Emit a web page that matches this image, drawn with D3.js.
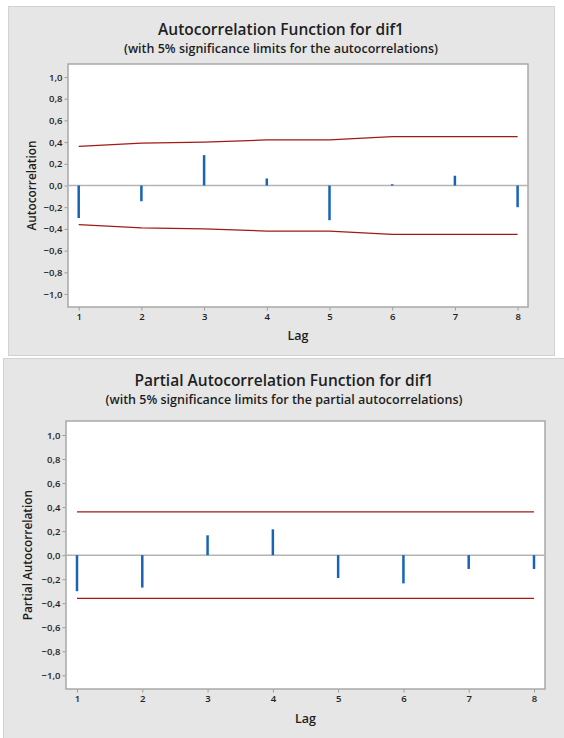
<!DOCTYPE html>
<html>
<head>
<meta charset="utf-8">
<script src="https://cdn.jsdelivr.net/npm/d3@7"></script>
<style>
	body { margin: 0; background: #ffffff; }
	svg { display: block; font-family: "Open Sans", "Noto Sans", sans-serif; }
</style>
</head>
<body>
<svg id="chart" width="564" height="738"></svg>
<script>
/** data */
var lags = [1, 2, 3, 4, 5, 6, 7, 8];
var acfValues = [-0.30, -0.145, 0.28, 0.065, -0.32, 0.012, 0.09, -0.20];
var acfLimits = [0.36, 0.39, 0.40, 0.42, 0.42, 0.45, 0.45, 0.45];
var pacfValues = [-0.30, -0.27, 0.165, 0.215, -0.19, -0.235, -0.115, -0.115];
var pacfLimits = [0.36, 0.36, 0.36, 0.36, 0.36, 0.36, 0.36, 0.36];
var yTicks = [-1.0, -0.8, -0.6, -0.4, -0.2, 0.0, 0.2, 0.4, 0.6, 0.8, 1.0];

(function() {
	"use strict";

	var fmt = function(d) { return d3.format(".1f")(d).replace(".", ","); };

	/**
	 * reusable correlogram panel (acf / pacf with significance limits)
	 */
	function correlogram() {
		var box = {x: 0, y: 0, w: 564, h: 360}, // gray frame
		    plot = {left: 60, top: 60, right: 530, bottom: 300}, // white plot area
		    xRange = [70, 520], // pixel positions of first / last lag
		    yRange = [290, 75], // pixel positions of -1 / 1
		    title = "", subtitle = "", yLabel = "",
		    titleY = 35, yLabelX = 30, lagY = 340;

		function chart(selection) {
			selection.each(function(d) {
				var g = d3.select(this).append("g");

				var x = d3.scaleLinear().domain([1, 8]).range(xRange),
				    y = d3.scaleLinear().domain([-1, 1]).range(yRange);

				// frame
				g.append("rect")
					.attr("x", box.x + 0.5).attr("y", box.y + 0.5)
					.attr("width", box.w).attr("height", box.h)
					.attr("fill", "#e6e6e6").attr("stroke", "#d2d2d2");

				g.append("rect")
					.attr("x", plot.left).attr("y", plot.top)
					.attr("width", plot.right - plot.left).attr("height", plot.bottom - plot.top)
					.attr("fill", "#ffffff").attr("stroke", "#a8a8a8").attr("stroke-width", 1.5);

				// titles
				var cx = box.x + box.w / 2;
				g.append("text").text(title)
					.attr("x", cx).attr("y", titleY)
					.attr("text-anchor", "middle").attr("font-size", 15.5).attr("font-weight", 600)
					.attr("fill", "#1e1e1e");
				g.append("text").text(subtitle)
					.attr("x", cx).attr("y", titleY + 18)
					.attr("text-anchor", "middle").attr("font-size", 12.5).attr("font-weight", 600)
					.attr("fill", "#1e1e1e");

				// axes
				var yAxis = d3.axisLeft(y).tickValues(yTicks).tickFormat(fmt).tickSize(3).tickPadding(2);
				var ya = g.append("g").attr("transform", "translate(" + (plot.left - 0.5) + ",0)").call(yAxis);

				var xAxis = d3.axisBottom(x).tickValues(lags).tickFormat(d3.format("d")).tickSize(3).tickPadding(3);
				var xa = g.append("g").attr("transform", "translate(0," + (plot.bottom + 0.5) + ")").call(xAxis);

				[ya, xa].forEach(function(a) {
					a.select(".domain").remove();
					a.selectAll(".tick line").attr("stroke", "#9a9a9a");
					a.selectAll(".tick text")
						.attr("font-family", "'Open Sans', sans-serif")
						.attr("font-size", 9.5).attr("font-weight", 600).attr("fill", "#222");
				});

				g.append("text").text("Lag")
					.attr("x", (plot.left + plot.right) / 2).attr("y", lagY)
					.attr("text-anchor", "middle").attr("font-size", 12.5).attr("font-weight", 600)
					.attr("fill", "#1e1e1e");

				g.append("text").text(yLabel)
					.attr("transform", "translate(" + yLabelX + "," + y(0) + ") rotate(-90)")
					.attr("text-anchor", "middle").attr("font-size", 11.8).attr("font-weight", 600)
					.attr("fill", "#1e1e1e");

				// zero line
				g.append("line")
					.attr("x1", plot.left).attr("x2", plot.right)
					.attr("y1", y(0)).attr("y2", y(0))
					.attr("stroke", "#b4b4b4").attr("stroke-width", 1.5);

				// significance limits
				var line = d3.line()
					.x(function(p) { return x(p.lag); })
					.y(function(p) { return y(p.v); });
				var upper = lags.map(function(l, i) { return {lag: l, v: d.limits[i]}; }),
				    lower = lags.map(function(l, i) { return {lag: l, v: -d.limits[i]}; });

				g.selectAll("path.limit")
					.data([upper, lower])
					.enter()
				.append("path")
					.attr("class", "limit")
					.attr("d", line)
					.attr("fill", "none")
					.attr("stroke", "#a31818").attr("stroke-width", 1.3);

				// spikes
				g.selectAll("line.spike")
					.data(d.values)
					.enter()
				.append("line")
					.attr("class", "spike")
					.attr("x1", function(v, i) { return x(lags[i]); })
					.attr("x2", function(v, i) { return x(lags[i]); })
					.attr("y1", y(0))
					.attr("y2", function(v) { return y(v); })
					.attr("stroke", "#1763b8").attr("stroke-width", 2.5);
			});
		}

		/** getter/setter */
		chart.box = function(_) { if(!arguments.length) return box; box = _; return chart; };
		chart.plot = function(_) { if(!arguments.length) return plot; plot = _; return chart; };
		chart.xRange = function(_) { if(!arguments.length) return xRange; xRange = _; return chart; };
		chart.yRange = function(_) { if(!arguments.length) return yRange; yRange = _; return chart; };
		chart.title = function(_) { if(!arguments.length) return title; title = _; return chart; };
		chart.subtitle = function(_) { if(!arguments.length) return subtitle; subtitle = _; return chart; };
		chart.yLabel = function(_) { if(!arguments.length) return yLabel; yLabel = _; return chart; };
		chart.titleY = function(_) { if(!arguments.length) return titleY; titleY = _; return chart; };
		chart.yLabelX = function(_) { if(!arguments.length) return yLabelX; yLabelX = _; return chart; };
		chart.lagY = function(_) { if(!arguments.length) return lagY; lagY = _; return chart; };

		return chart;
	}

	var svg = d3.select("#chart");

	var acf = correlogram()
		.box({x: 8, y: 6, w: 546, h: 349})
		.plot({left: 68, top: 64, right: 528, bottom: 307})
		.xRange([78.7, 517.6])
		.yRange([294, 77])
		.title("Autocorrelation Function for dif1")
		.subtitle("(with 5% significance limits for the autocorrelations)")
		.yLabel("Autocorrelation")
		.titleY(35)
		.yLabelX(36)
		.lagY(340);

	var pacf = correlogram()
		.box({x: 3, y: 358, w: 562, h: 381})
		.plot({left: 66, top: 421, right: 545, bottom: 689})
		.xRange([77, 534])
		.yRange([675.3, 435])
		.title("Partial Autocorrelation Function for dif1")
		.subtitle("(with 5% significance limits for the partial autocorrelations)")
		.yLabel("Partial Autocorrelation")
		.titleY(386)
		.yLabelX(32)
		.lagY(723);

	svg.append("g").datum({values: acfValues, limits: acfLimits}).call(acf);
	svg.append("g").datum({values: pacfValues, limits: pacfLimits}).call(pacf);
})();
</script>
</body>
</html>
